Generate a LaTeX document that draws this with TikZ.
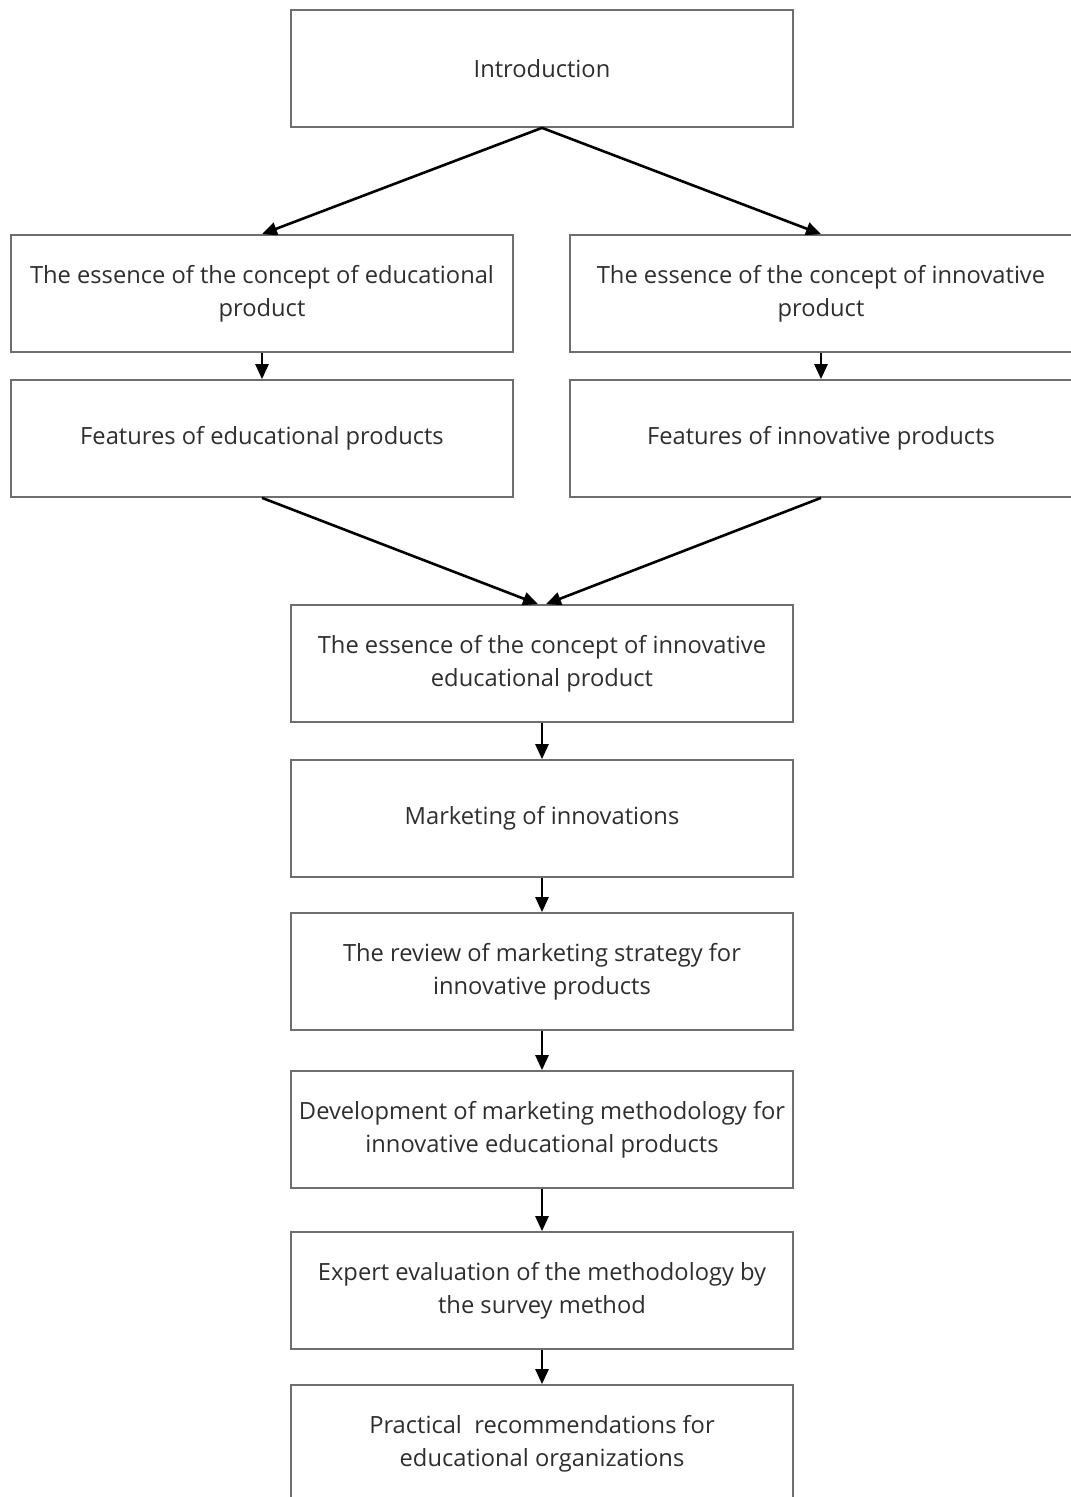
\documentclass[tikz,border=0pt]{standalone}
\usepackage{fontspec}
\setmainfont{Open Sans}
\usetikzlibrary{arrows.meta,calc}
\definecolor{boxline}{HTML}{6E6E6E}
\definecolor{txt}{HTML}{2E2E2E}
\begin{document}
\begin{tikzpicture}[x=1pt,y=-1pt,
  box/.style={draw=boxline,line width=1.7pt,minimum width=502pt,minimum height=117pt,
    inner sep=0pt,align=center,text=txt,
    font=\fontsize{23.7pt}{32.8pt}\selectfont},
  arr/.style={draw=black,line width=2.6pt,-{Triangle[length=15pt,width=13pt]}}]
\useasboundingbox (0,0) rectangle (1071,1497);
\node[box] (intro) at (542,68.5) {Introduction};
\node[box] (l1) at (262,293.5) {The essence of the concept of educational\\product};
\node[box] (r1) at (821,293.5) {The essence of the concept of innovative\\product};
\node[box] (l2) at (262,438.5) {Features of educational products};
\node[box] (r2) at (821,438.5) {Features of innovative products};
\node[box] (c1) at (542,663.5) {The essence of the concept of innovative\\educational product};
\node[box] (c2) at (542,818.5) {Marketing of innovations};
\node[box] (c3) at (542,971.5) {The review of marketing strategy for\\innovative products};
\node[box] (c4) at (542,1129.5) {Development of marketing methodology for\\innovative educational products};
\node[box] (c5) at (542,1290.5) {Expert evaluation of the methodology by\\the survey method};
\node[box] (c6) at (542,1443.5) {Practical~ recommendations for\\educational organizations};
\draw[arr] (intro.south) -- (l1.north);
\draw[arr] (intro.south) -- (r1.north);
\draw[arr] (l1.south) -- (l2.north);
\draw[arr] (r1.south) -- (r2.north);
\draw[arr] (l2.south) -- ($(c1.north)+(-4,0)$);
\draw[arr] (r2.south) -- ($(c1.north)+(4,0)$);
\draw[arr] (c1) -- (c2);
\draw[arr] (c2) -- (c3);
\draw[arr] (c3) -- (c4);
\draw[arr] (c4) -- (c5);
\draw[arr] (c5) -- (c6);
\end{tikzpicture}
\end{document}
